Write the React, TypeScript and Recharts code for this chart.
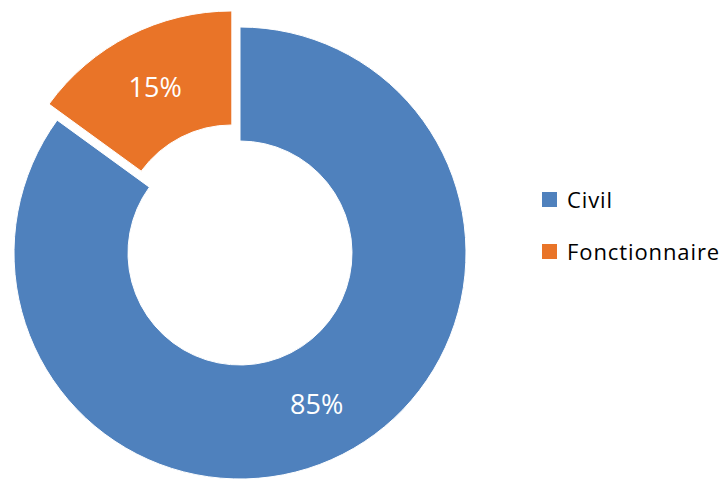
import { PieChart, Pie, Cell, Legend } from "recharts";

const categories = ["Civil", "Fonctionnaire"];
const shares = [85, 15];
const colors = ["#4F81BD", "#E97428"];

const RAD = Math.PI / 180;
const CX = 240;
const CY = 253;
const INNER = 112;
const OUTER = 226;
const EXPLODE = 18;

const data = categories.map((name, i) => ({ name, value: shares[i] }));
const total = shares.reduce((a, b) => a + b, 0);

// the second slice is pulled out along its mid angle
const explodedIndex = 1;
const before = shares.slice(0, explodedIndex).reduce((a, b) => a + b, 0);
const midAngle = 90 - (360 * (before + shares[explodedIndex] / 2)) / total;
const dx = EXPLODE * Math.cos(midAngle * RAD);
const dy = -EXPLODE * Math.sin(midAngle * RAD);

const makeLabel = (onlyIndex: number) => (props: any) => {
  const { cx, cy, midAngle, innerRadius, outerRadius, value, index } = props;
  if (index !== onlyIndex) return null;
  const r = (innerRadius + outerRadius) / 2;
  const x = cx + r * Math.cos(-midAngle * RAD);
  const y = cy + r * Math.sin(-midAngle * RAD);
  return (
    <text
      x={x}
      y={y}
      fill="#fff"
      textAnchor="middle"
      dominantBaseline="central"
      fontSize={27}
      fontFamily="'Open Sans', sans-serif"
    >
      {`${value}%`}
    </text>
  );
};

const LegendContent = () => (
  <div style={{ fontFamily: "'Open Sans', sans-serif", fontSize: 22, color: "#000", letterSpacing: 0.9 }}>
    {categories.map((name, i) => (
      <div
        key={name}
        style={{ display: "flex", alignItems: "center", height: 30, marginBottom: 22 }}
      >
        <span style={{ width: 15, height: 15, background: colors[i], marginRight: 10, flexShrink: 0 }} />
        <span>{name}</span>
      </div>
    ))}
  </div>
);

export default function App() {
  return (
    <div style={{ position: "absolute", left: 0, top: 0, background: "#fff" }}>
      <PieChart width={727} height={479} margin={{ top: 0, right: 0, bottom: 0, left: 0 }}>
        <Pie
          data={data}
          dataKey="value"
          cx={CX}
          cy={CY}
          innerRadius={INNER}
          outerRadius={OUTER}
          startAngle={90}
          endAngle={-270}
          stroke="#fff"
          strokeWidth={1}
          label={makeLabel(0)}
          labelLine={false}
          isAnimationActive={false}
        >
          {data.map((d, i) => (
            <Cell key={d.name} fill={i === explodedIndex ? "transparent" : colors[i]} stroke={i === explodedIndex ? "none" : "#fff"} />
          ))}
        </Pie>
        <Pie
          data={data}
          dataKey="value"
          cx={CX + dx}
          cy={CY + dy}
          innerRadius={INNER}
          outerRadius={OUTER}
          startAngle={90}
          endAngle={-270}
          label={makeLabel(explodedIndex)}
          labelLine={false}
          isAnimationActive={false}
        >
          {data.map((d, i) => (
            <Cell key={d.name} fill={i === explodedIndex ? colors[i] : "transparent"} stroke={i === explodedIndex ? "#fff" : "none"} />
          ))}
        </Pie>
        <Legend
          layout="vertical"
          content={<LegendContent />}
          wrapperStyle={{ left: 542, top: 184, width: 185 }}
        />
      </PieChart>
    </div>
  );
}
